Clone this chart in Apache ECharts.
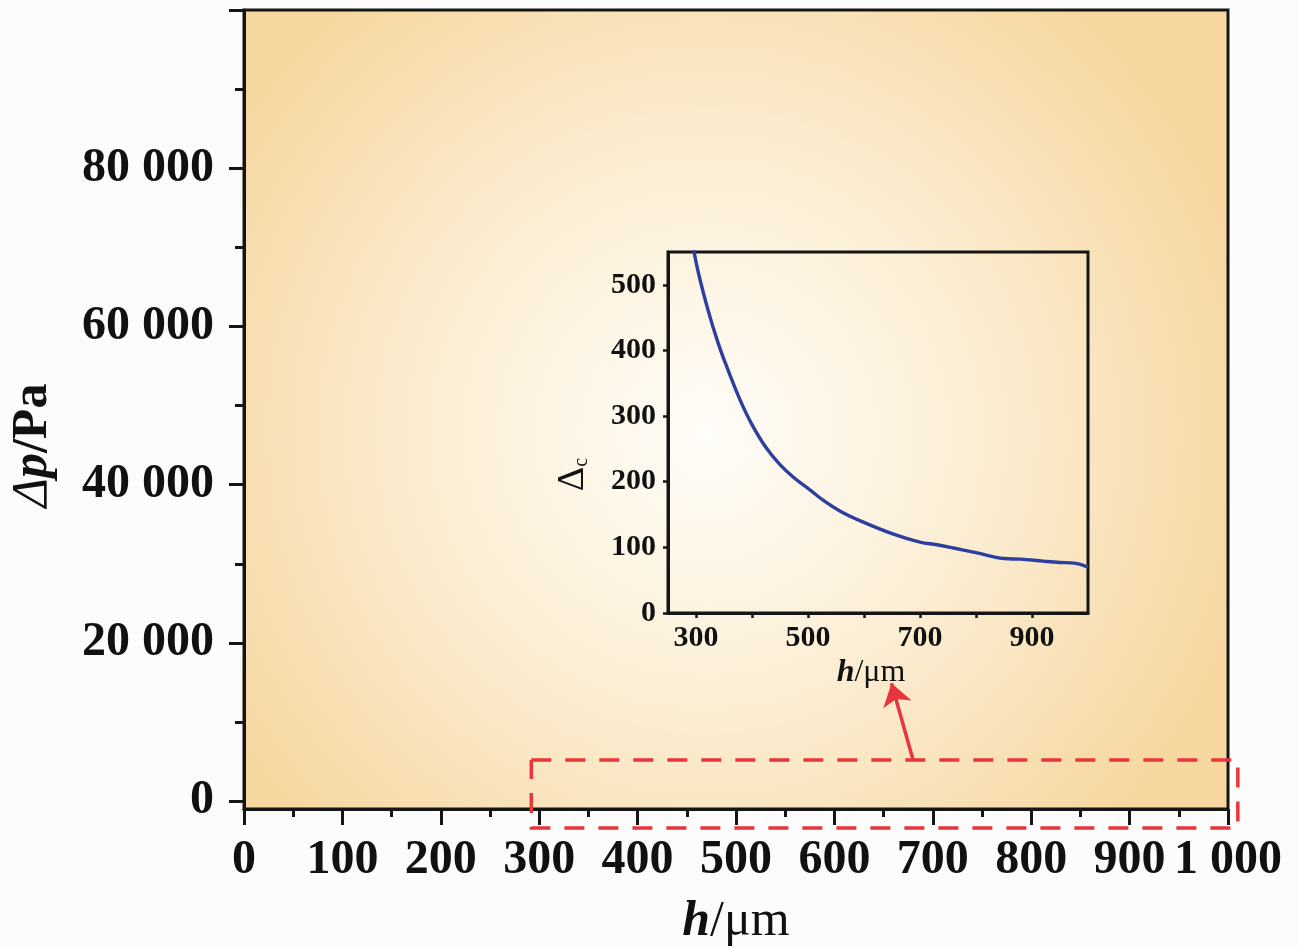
<!DOCTYPE html>
<html><head><meta charset="utf-8">
<script src="https://cdn.jsdelivr.net/npm/echarts@6/dist/echarts.min.js"></script>
<style>html,body{margin:0;padding:0;background:#fcfcfc}#c{width:1298px;height:949px}</style>
</head><body><div id="c"></div>
<script>
// ---- data ----
const mainXTicks = [0,100,200,300,400,500,600,700,800,900,1000];
const mainXMinor = [50,150,250,350,450,550,650,750,850,950];
const mainYTicks = [0,20000,40000,60000,80000];
const mainYTickMarks = [0,20000,40000,60000,80000,100000];
const mainYMinor = [10000,30000,50000,70000,90000];
const insetXTicks = [300,500,700,900];
const insetXTickMarks = [300,400,500,600,700,800,900];
const insetYTicks = [0,100,200,300,400,500];
const hValues  = [290,300,320,340,360,380,400,425,450,475,500,530,560,600,650,700,730,760,800,850,880,920,950,975,1000];
const dcValues = [590,535,466,410,364,322,287,252,226,206,190,170,154,138,121,108,104,99,92,83,82,79,77,76,70];
const boxX = [292,1010];
const boxY = [5200,-3400];
const arrowFrom = [680,5200];
const arrowTo = [658,14900];

const serif = "'Liberation Serif','Times New Roman',serif";
const fmt = v => String(v).replace(/\B(?=(\d{3})+(?!\d))/g,' ');
const black = '#151515';

const chart = echarts.init(document.getElementById('c'));
chart.setOption({
  animation:false,
  backgroundColor:'#fcfcfc',
  grid:[
    {left:244,top:10,width:984,height:799,show:true,borderColor:black,borderWidth:3,outerBoundsMode:'none',containLabel:false,
     backgroundColor:new echarts.graphic.RadialGradient(0.47,0.53,0.7,[
       {offset:0,color:'#fffdf8'},{offset:0.45,color:'#fcefd7'},{offset:1,color:'#f6d7a0'}])},
    {left:668,top:252,width:420,height:361,show:true,borderColor:black,borderWidth:3,backgroundColor:'transparent',outerBoundsMode:'none',containLabel:false}
  ],
  xAxis:[
    {gridIndex:0,type:'value',min:0,max:1000,position:'bottom',
     axisLine:{onZero:false,lineStyle:{color:black,width:3}},
     axisTick:{customValues:mainXTicks,length:16,lineStyle:{color:black,width:3}},
     axisLabel:{customValues:mainXTicks,formatter:fmt,margin:28,color:'#111',fontFamily:serif,fontWeight:'bold',fontSize:48},
     splitLine:{show:false},
     name:'{i|h}{n|/μm}',nameLocation:'middle',nameGap:88,
     nameTextStyle:{rich:{i:{fontFamily:serif,fontStyle:'italic',fontWeight:'bold',fontSize:50,color:'#111'},
                          n:{fontFamily:serif,fontWeight:'normal',fontSize:50,color:'#111'}}}},
    {gridIndex:0,type:'value',min:0,max:1000,position:'bottom',offset:0,
     axisLine:{show:false,onZero:false},
     axisTick:{customValues:mainXMinor,length:8,lineStyle:{color:black,width:3}},
     axisLabel:{show:false},splitLine:{show:false}},
    {gridIndex:1,type:'value',min:250,max:1000,position:'bottom',
     axisLine:{onZero:false,lineStyle:{color:black,width:3}},
     axisTick:{customValues:insetXTickMarks,length:5,lineStyle:{color:black,width:2.5}},
     axisLabel:{customValues:insetXTicks,margin:10,color:'#111',fontFamily:serif,fontWeight:'bold',fontSize:30},
     splitLine:{show:false},
     name:'{i|h}{n|/μm}',nameLocation:'middle',nameGap:44,
     nameTextStyle:{padding:[0,14,0,0],rich:{i:{fontFamily:serif,fontStyle:'italic',fontWeight:'bold',fontSize:32,color:'#111'},
                          n:{fontFamily:serif,fontWeight:'normal',fontSize:32,color:'#111'}}}}
  ],
  yAxis:[
    {gridIndex:0,type:'value',min:-1000,max:100000,position:'left',
     axisLine:{onZero:false,lineStyle:{color:black,width:3}},
     axisTick:{customValues:mainYTickMarks,length:15,lineStyle:{color:black,width:3}},
     axisLabel:{customValues:mainYTicks,formatter:fmt,margin:30,color:'#111',fontFamily:serif,fontWeight:'bold',fontSize:48},
     splitLine:{show:false},
     name:'{d|Δ}{p|p}{n|/Pa}',nameLocation:'middle',nameGap:186,
     nameTextStyle:{padding:[0,72,0,0],rich:{
       d:{fontFamily:serif,fontStyle:'italic',fontSize:50,color:'#111'},
       p:{fontFamily:serif,fontStyle:'italic',fontWeight:'bold',fontSize:50,color:'#111'},
       n:{fontFamily:serif,fontWeight:'bold',fontSize:50,color:'#111'}}}},
    {gridIndex:0,type:'value',min:-1000,max:100000,position:'left',offset:0,
     axisLine:{show:false,onZero:false},
     axisTick:{customValues:mainYMinor,length:9,lineStyle:{color:black,width:3}},
     axisLabel:{show:false},splitLine:{show:false}},
    {gridIndex:1,type:'value',min:0,max:550,position:'left',
     axisLine:{onZero:false,lineStyle:{color:black,width:3}},
     axisTick:{customValues:insetYTicks,length:5,lineStyle:{color:black,width:2.5}},
     axisLabel:{customValues:insetYTicks,margin:12,color:'#111',fontFamily:serif,fontWeight:'bold',fontSize:30},
     splitLine:{show:false},
     name:'{d|Δ}{s|c}',nameLocation:'middle',nameGap:76,
     nameTextStyle:{padding:[0,84,0,0],rich:{
       d:{fontFamily:serif,fontSize:38,color:'#111'},
       s:{fontFamily:serif,fontSize:20,color:'#111',verticalAlign:'bottom',padding:[16,0,0,0]}}}}
  ],
  series:[
    {type:'line',xAxisIndex:2,yAxisIndex:2,data:hValues.map((h,i)=>[h,dcValues[i]]),
     smooth:0.4,showSymbol:false,clip:true,lineStyle:{color:'#2c3f9f',width:3.4},z:5},
    {type:'lines',coordinateSystem:'cartesian2d',xAxisIndex:0,yAxisIndex:0,polyline:true,clip:false,silent:true,
     data:[{coords:[[boxX[0],boxY[0]],[boxX[1],boxY[0]],[boxX[1],boxY[1]],[boxX[0],boxY[1]],[boxX[0],boxY[0]]]}],
     lineStyle:{color:'#e8353b',width:3.5,type:[20,14],opacity:1},z:6},
    {type:'lines',coordinateSystem:'cartesian2d',xAxisIndex:0,yAxisIndex:0,clip:false,silent:true,
     symbol:['none','arrow'],symbolSize:[14,22],
     data:[{coords:[arrowFrom,arrowTo]}],
     lineStyle:{color:'#e8353b',width:3.5,opacity:1,curveness:0},z:6}
  ]
});
</script></body></html>
